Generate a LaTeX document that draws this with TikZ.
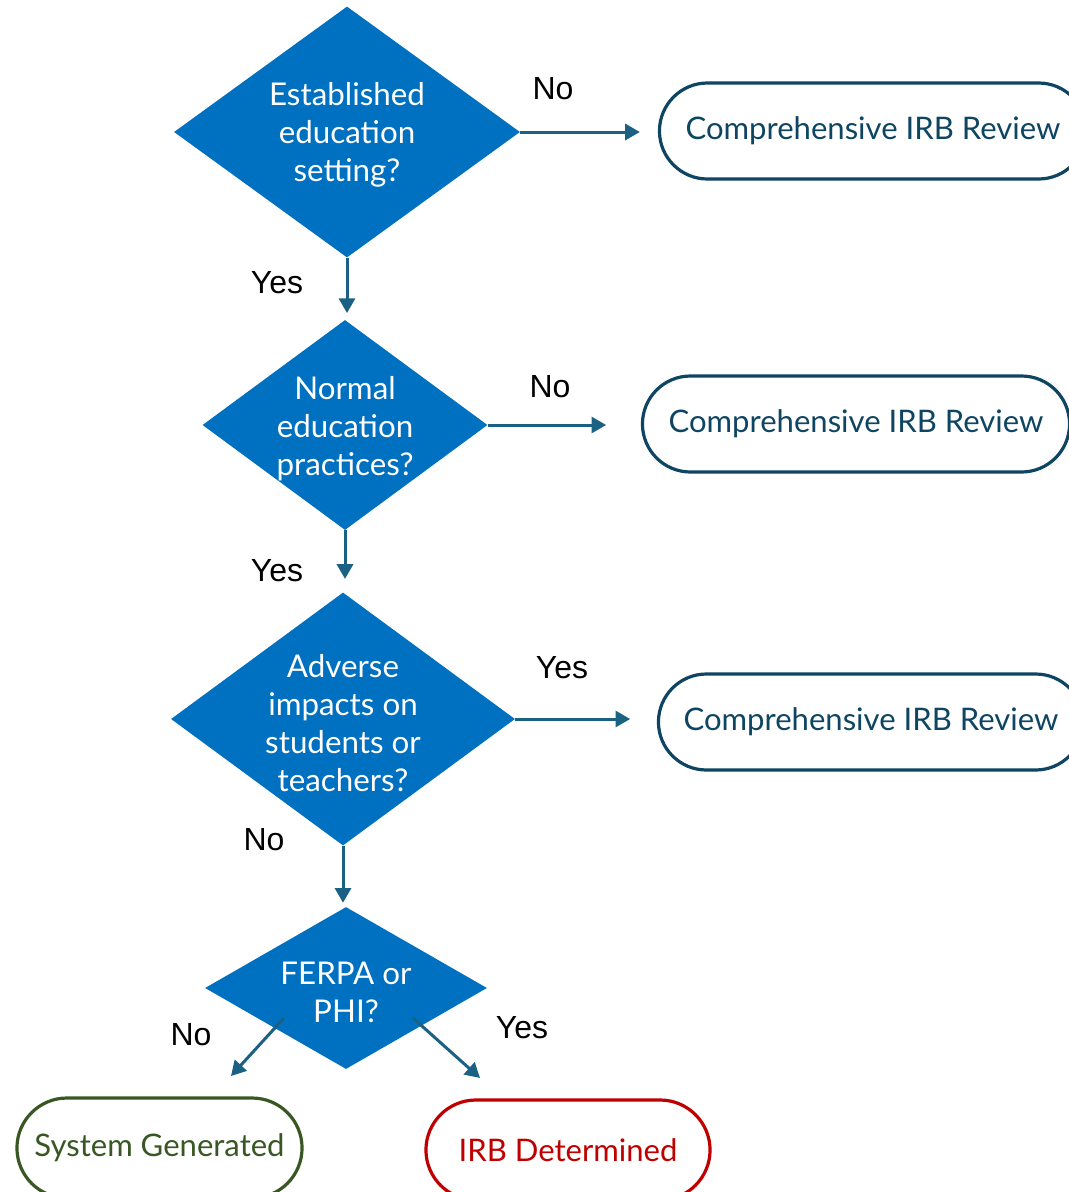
\documentclass[tikz,border=0pt]{standalone}
\usepackage{fontspec}
\setmainfont{Lato}
\newfontfamily\lblfont{Liberation Sans}
\usetikzlibrary{shapes.geometric,shapes.misc,arrows.meta}
\definecolor{diablue}{HTML}{0070C0}
\definecolor{arrowc}{HTML}{1A6184}
\definecolor{termc}{HTML}{0E4562}
\definecolor{greenc}{HTML}{385723}
\definecolor{redc}{HTML}{C00000}
\tikzset{
  dia/.style={diamond, fill=diablue, draw=none, inner sep=0pt, text=white},
  dtext/.style={align=center, text=white, font=\fontsize{23.5}{28.5}\selectfont},
  term/.style={rounded rectangle, draw=termc, line width=2.4pt, text=termc, font=\fontsize{23.3}{26}\selectfont, minimum height=72pt},
  arr/.style={draw=arrowc, line width=2.25pt, -{Triangle[length=11pt,width=12pt]}},
  lbl/.style={font=\lblfont\fontsize{24}{28}\selectfont, text=black}
}
\begin{document}
\begin{tikzpicture}[x=0.75pt,y=-0.75pt]
\useasboundingbox (0,0) rectangle (1068,1192);
% diamonds
\node[dia, minimum width={346*0.75pt}, minimum height={251*0.75pt}] (d1) at (347,132) {};
\node[dtext] (d1t) at (347,135) {Established\\education\\setting?};
\node[dia, minimum width={285*0.75pt}, minimum height={210*0.75pt}] (d2) at (345,425) {};
\node[dtext] (d2t) at (345,429) {Normal\\education\\practices?};
\node[dia, minimum width={344*0.75pt}, minimum height={253*0.75pt}] (d3) at (343,719) {};
\node[dtext] (d3t) at (343,723) {Adverse\\impacts on\\students or\\teachers?};
\node[dia, minimum width={282*0.75pt}, minimum height={162*0.75pt}] (d4) at (346,988) {};
\node[dtext] (d4t) at (346,992) {FERPA or\\PHI?};
% terminals
\node[term, minimum width={436*0.75pt}] (t1) at (873,131) {\raisebox{-3.5pt}{Comprehensive IRB Review}};
\node[term, minimum width={436*0.75pt}] (t2) at (856,424) {\raisebox{-3.5pt}{Comprehensive IRB Review}};
\node[term, minimum width={434*0.75pt}] (t3) at (871,722) {\raisebox{-3.5pt}{Comprehensive IRB Review}};
\node[term, draw=greenc, text=greenc, minimum width={294*0.75pt}, minimum height={100*0.75pt}] (t4) at (159.5,1148) {\raisebox{-2pt}{System Generated}};
\node[term, draw=redc, text=redc, minimum width={293*0.75pt}, minimum height={100*0.75pt}] (t5) at (568,1150) {\raisebox{-2pt}{IRB Determined}};
% connectors
\draw[arr, shorten >=13.5pt] (d1.east) -- (d1.east -| t1.west);
\draw[arr, shorten >=26pt] (d2.east) -- (d2.east -| t2.west);
\draw[arr, shorten >=20pt] (d3.east) -- (d3.east -| t3.west);
\draw[arr, shorten >=5pt] (d1.south) -- (d1.south |- d2.north);
\draw[arr, shorten >=10pt] (d2.south) -- (d2.south |- d3.north);
\draw[arr, shorten >=3pt] (d3.south) -- (d3.south |- d4.north);
\coordinate (n1) at (284,1018);
\coordinate (n2) at (231,1076);
\coordinate (y1) at (413,1018);
\coordinate (y2) at (480,1078);
\draw[arr] (n1) -- (n2);
\draw[arr] (y1) -- (y2);
% labels
\node[lbl] (l1) at (553,89) {No};
\node[lbl] (l2) at (277,283) {Yes};
\node[lbl] (l3) at (550,387) {No};
\node[lbl] (l4) at (277,571) {Yes};
\node[lbl] (l5) at (562,668) {Yes};
\node[lbl] (l6) at (264,840) {No};
\node[lbl] (l7) at (191,1035) {No};
\node[lbl] (l8) at (522,1028) {Yes};
\end{tikzpicture}
\end{document}
